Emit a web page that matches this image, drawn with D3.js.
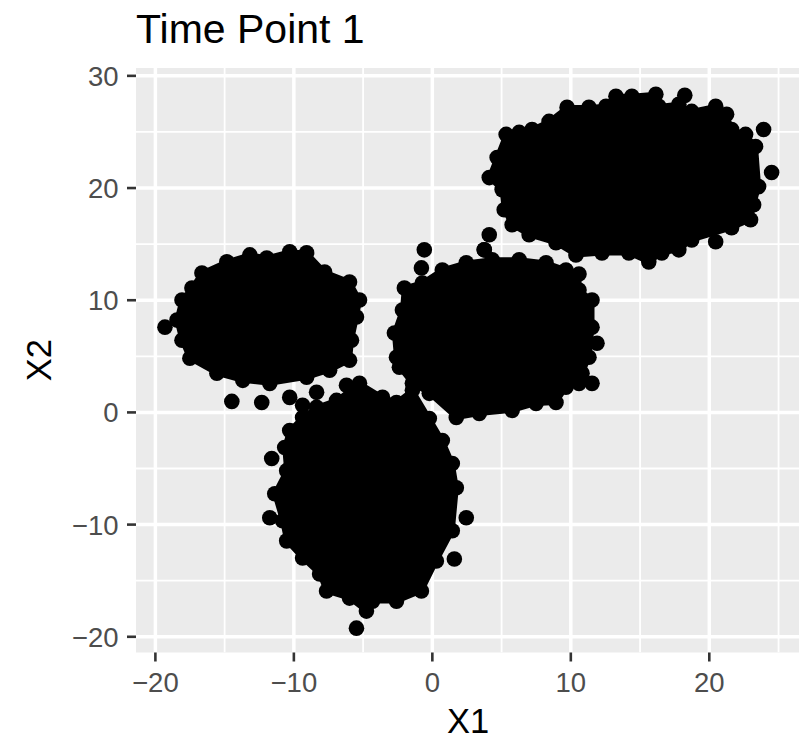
<!DOCTYPE html>
<html>
<head>
<meta charset="utf-8">
<script src="https://cdn.jsdelivr.net/npm/d3@7"></script>
<style>
    body { margin: 0; background: white; }
    svg text { font-family: "Liberation Sans", Arial, sans-serif; }
</style>
</head>
<body>
<div id="chart"></div>
<script>

// tick values for both axes
const xTicks = [-20, -10, 0, 10, 20]
const yTicks = [-20, -10, 0, 10, 20, 30]
const xMinor = [-15, -5, 5, 15, 25]
const yMinor = [-15, -5, 5, 15, 25]

// dense cores of the four clusters, outline of the outermost points (X1, X2)
const hullA = [[4.11, 20.93], [4.68, 22.72], [5.33, 24.78], [6.27, 24.96], [7.20, 25.22], [8.43, 25.94],
    [9.73, 27.19], [11.31, 27.19], [12.54, 27.28], [13.26, 28.18], [14.41, 28.18], [16.14, 28.35],
    [16.35, 27.28], [17.80, 27.46], [18.73, 26.83], [20.46, 27.28], [21.25, 26.57], [21.61, 25.22],
    [22.62, 24.78], [23.34, 23.70], [23.56, 20.13], [23.20, 18.52], [22.98, 17.17], [21.61, 16.46],
    [18.73, 15.38], [17.80, 14.49], [16.57, 14.22], [15.63, 13.42], [14.19, 14.22], [12.25, 14.22],
    [10.37, 14.04], [8.93, 15.12], [6.99, 15.83], [5.76, 16.73], [5.19, 18.07], [5.04, 19.86]]

const hullB = [[-18.08, 10.02], [-17.36, 11.09], [-16.64, 12.43], [-14.84, 13.42], [-13.18, 14.04],
    [-11.96, 13.77], [-10.30, 14.31], [-9.08, 14.22], [-7.78, 12.52], [-5.98, 11.63], [-5.26, 10.02],
    [-5.48, 8.50], [-5.84, 6.44], [-5.98, 4.65], [-7.42, 3.76], [-9.08, 3.13], [-11.74, 2.59],
    [-13.69, 2.86], [-15.56, 3.49], [-17.51, 4.83], [-18.08, 6.44], [-18.44, 8.23]]

const hullC = [[-2.02, 11.09], [-2.16, 9.12], [-2.74, 7.07], [-2.59, 4.92], [-2.38, 4.03], [-1.44, 2.59],
    [-0.22, 1.70], [1.73, -0.45], [3.39, -0.09], [5.76, 0.18], [7.49, 0.80], [8.93, 0.89], [9.65, 2.24],
    [10.81, 3.49], [11.31, 4.92], [11.53, 7.60], [11.53, 10.02], [10.59, 10.91], [10.59, 12.34],
    [9.65, 12.70], [8.21, 13.33], [6.27, 13.60], [4.32, 13.60], [2.45, 13.33], [0.72, 12.70], [-0.72, 11.54]]

const hullD = [[-8.36, 0.45], [-6.92, 1.07], [-5.26, 2.59], [-3.60, 1.34], [-2.59, 0.89], [-1.44, 1.97],
    [-0.22, -0.54], [0.72, -2.50], [1.44, -4.56], [1.73, -6.71], [1.44, -10.55], [0.29, -13.24],
    [-0.79, -15.92], [-2.59, -16.82], [-4.32, -16.82], [-4.76, -17.71], [-5.98, -16.55], [-7.64, -15.92],
    [-8.14, -14.40], [-9.37, -12.97], [-10.52, -11.45], [-10.81, -9.66], [-11.38, -7.25], [-10.52, -5.19],
    [-10.66, -3.13], [-10.30, -1.61], [-9.37, -0.45]]

// loose points sitting outside the dense cores
const strays = [
    [23.92, 25.22], [24.50, 21.38], [20.46, 15.21], [4.11, 15.83], [3.75, 14.49], [18.23, 28.26],
    [-19.31, 7.60], [-14.48, 0.98], [-12.32, 0.89], [-10.30, 1.34], [-9.37, 0.63],
    [-0.58, 14.49], [-0.79, 12.88], [3.75, 14.49], [11.89, 6.17], [11.53, 2.59], [10.59, 2.59],
    [-11.60, -4.11], [-11.74, -9.39], [2.45, -9.39], [1.59, -13.06], [-5.48, -19.23], [-8.36, 1.79], [-6.20, 2.42]
]

const clusters = [hullA, hullB, hullC, hullD]

////////////////////////////////////
////////////// layout //////////////
////////////////////////////////////

const svgWidth = 799
const svgHeight = 740

const panel = { left: 136, right: 800, top: 68, bottom: 652.5 }

const svg = d3.select('#chart')
    .append('svg')
    .attr('width', svgWidth)
    .attr('height', svgHeight)

// scales, domain already includes ggplot's 5% expansion
const x = d3.scaleLinear()
    .domain([-21.4, 26.55])
    .range([panel.left, panel.right])

const y = d3.scaleLinear()
    .domain([-21.4, 30.7])
    .range([panel.bottom, panel.top])

const r = 7.8

////////////////////////////////////
////////////// panel ///////////////
////////////////////////////////////

svg.append('defs').append('clipPath')
    .attr('id', 'clip')
    .append('rect')
    .attr('x', panel.left)
    .attr('y', panel.top)
    .attr('width', panel.right - panel.left)
    .attr('height', panel.bottom - panel.top)

svg.append('rect')
    .attr('x', panel.left)
    .attr('y', panel.top)
    .attr('width', panel.right - panel.left)
    .attr('height', panel.bottom - panel.top)
    .attr('fill', '#ebebeb')

const grid = svg.append('g').attr('clip-path', 'url(#clip)')

grid.selectAll('.vminor')
    .data(xMinor)
    .join('line')
    .attr('x1', d => x(d)).attr('x2', d => x(d))
    .attr('y1', panel.top).attr('y2', panel.bottom)
    .attr('stroke', 'white').attr('stroke-width', 1.8)

grid.selectAll('.hminor')
    .data(yMinor)
    .join('line')
    .attr('y1', d => y(d)).attr('y2', d => y(d))
    .attr('x1', panel.left).attr('x2', panel.right)
    .attr('stroke', 'white').attr('stroke-width', 1.8)

grid.selectAll('.vmajor')
    .data(xTicks)
    .join('line')
    .attr('x1', d => x(d)).attr('x2', d => x(d))
    .attr('y1', panel.top).attr('y2', panel.bottom)
    .attr('stroke', 'white').attr('stroke-width', 3.5)

grid.selectAll('.hmajor')
    .data(yTicks)
    .join('line')
    .attr('y1', d => y(d)).attr('y2', d => y(d))
    .attr('x1', panel.left).attr('x2', panel.right)
    .attr('stroke', 'white').attr('stroke-width', 3.5)

////////////////////////////////////
////////////// points //////////////
////////////////////////////////////

const marks = svg.append('g').attr('clip-path', 'url(#clip)')

const outline = d3.line()
    .x(d => x(d[0]))
    .y(d => y(d[1]))
    .curve(d3.curveLinearClosed)

marks.selectAll('path')
    .data(clusters)
    .join('path')
    .attr('d', d => outline(d))
    .attr('fill', 'black')
    .attr('stroke', 'black')
    .attr('stroke-width', 5)
    .attr('stroke-linejoin', 'round')

marks.selectAll('circle')
    .data(clusters.flat().concat(strays))
    .join('circle')
    .attr('cx', d => x(d[0]))
    .attr('cy', d => y(d[1]))
    .attr('r', r)
    .attr('fill', 'black')

////////////////////////////////////
/////////////// axes ///////////////
////////////////////////////////////

const xAxis = svg.append('g')
xAxis.selectAll('line')
    .data(xTicks)
    .join('line')
    .attr('x1', d => x(d)).attr('x2', d => x(d))
    .attr('y1', panel.bottom).attr('y2', panel.bottom + 9)
    .attr('stroke', '#333333').attr('stroke-width', 2.6)
xAxis.selectAll('text')
    .data(xTicks)
    .join('text')
    .attr('x', d => x(d))
    .attr('y', 691.5)
    .attr('text-anchor', 'middle')
    .attr('font-size', 27.5)
    .attr('fill', '#4d4d4d')
    .text(d => d3.format('')(d).replace('-', '\u2212'))

const yAxis = svg.append('g')
yAxis.selectAll('line')
    .data(yTicks)
    .join('line')
    .attr('y1', d => y(d)).attr('y2', d => y(d))
    .attr('x1', panel.left - 9).attr('x2', panel.left)
    .attr('stroke', '#333333').attr('stroke-width', 2.6)
yAxis.selectAll('text')
    .data(yTicks)
    .join('text')
    .attr('x', 118.5)
    .attr('y', d => y(d))
    .attr('dy', '0.36em')
    .attr('text-anchor', 'end')
    .attr('font-size', 27.5)
    .attr('fill', '#4d4d4d')
    .text(d => d3.format('')(d).replace('-', '\u2212'))

// titles
svg.append('text')
    .attr('x', (panel.left + panel.right) / 2)
    .attr('y', 733)
    .attr('text-anchor', 'middle')
    .attr('font-size', 34.5)
    .attr('fill', 'black')
    .text('X1')

svg.append('text')
    .attr('transform', `translate(50.5,${(panel.top + panel.bottom) / 2}) rotate(-90)`)
    .attr('text-anchor', 'middle')
    .attr('font-size', 34.5)
    .attr('fill', 'black')
    .text('X2')

svg.append('text')
    .attr('x', panel.left)
    .attr('y', 43)
    .attr('font-size', 41)
    .attr('fill', 'black')
    .text('Time Point 1')

</script>
</body>
</html>
